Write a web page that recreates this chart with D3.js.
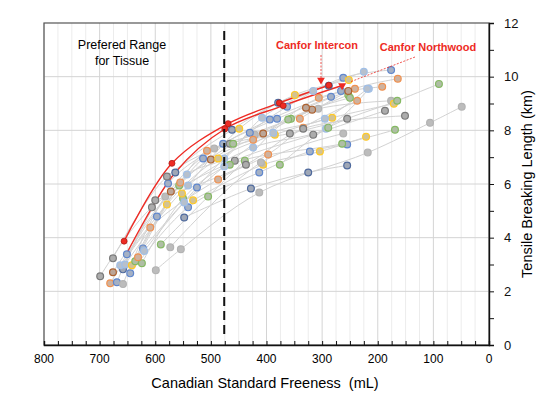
<!DOCTYPE html>
<html>
<head>
<meta charset="utf-8">
<script src="https://cdn.jsdelivr.net/npm/d3@7"></script>
<style>
  body { margin: 0; background: #fff; }
  text { font-family: "Liberation Sans", Arial, sans-serif; }
</style>
</head>
<body>
<div id="container"></div>
<script>
var w = 550;
var h = 397;

// palette codes used by the series
var palette = {
  B: "#4472c4", DB: "#2f4f8a", LB: "#8fb4e3", O: "#ed7d31", G: "#a5a5a5",
  DG: "#636363", Y: "#ffc000", GR: "#70ad47", BR: "#9e480e"
};

// pulp series: [CSF mL, breaking length km]
var seriesColors = ["DG","O","B","G","BR","DG","DB","LB","LB","G","DB","B","Y","Y","GR","GR","B","LB","GR","O","B","DG","Y","G","GR","O","BR"];
var seriesPoints = [
  [[699,2.56],[606,5.13],[457,6.87],[316,7.84],[187,8.73]],
  [[681,2.30],[609,4.38],[487,6.17],[397,7.10],[334,8.10],[237,9.10]],
  [[669,2.34],[577,6.02],[478,7.50],[381,8.43],[284,9.25]],
  [[658,2.27],[582,5.53],[494,7.32],[421,7.84],[307,8.80],[176,9.10]],
  [[676,2.71],[572,5.72],[500,6.91],[406,7.88],[318,8.77]],
  [[676,3.23],[579,6.28],[466,7.50],[358,7.88],[255,8.43]],
  [[658,2.82],[564,6.43],[462,8.02],[379,9.03],[288,9.66]],
  [[663,2.97],[543,6.35],[476,6.95],[408,8.47],[316,9.47],[225,10.18]],
  [[654,3.00],[541,5.94],[424,7.36],[293,8.06],[216,9.55]],
  [[599,2.79],[554,3.57],[413,5.68],[218,7.17],[106,8.28],[49,8.88]],
  [[548,4.75],[428,5.83],[325,6.43],[255,6.69]],
  [[645,2.67],[541,5.13],[413,6.43],[322,7.21],[255,7.47]],
  [[642,2.97],[579,5.24],[487,6.95],[385,7.84],[282,8.47],[171,8.99]],
  [[532,5.39],[406,6.72],[304,7.21],[221,7.76]],
  [[636,3.12],[557,5.94],[460,7.50],[356,8.43],[253,9.32]],
  [[624,3.05],[550,5.46],[466,6.72],[264,7.50],[169,8.02]],
  [[622,3.60],[525,5.87],[430,7.91],[363,8.88],[262,9.96],[176,10.25]],
  [[620,3.50],[548,5.31],[476,6.65],[388,7.91],[295,8.43],[219,9.55]],
  [[590,3.75],[505,5.53],[439,6.87],[361,8.40],[250,9.21]],
  [[631,3.27],[555,6.06],[507,7.24],[424,7.65],[306,9.21],[192,9.62]],
  [[651,3.38],[597,4.79],[514,6.95],[394,8.40],[266,9.47]],
  [[600,5.39],[437,6.72],[334,8.06],[151,8.54]],
  [[552,5.65],[449,8.06],[349,9.32],[252,9.88]],
  [[573,3.64],[410,6.80],[262,7.88]],
  [[376,6.72],[289,8.10],[165,9.10],[90,9.73]],
  [[340,8.43],[241,9.55],[164,9.92]],
  [[329,8.84],[253,9.47]]
];

// Canfor pulps
var intercon = [[656,3.87],[570,6.77],[469,8.25],[377,9.02],[288,9.68]];
var northwood = [[651,3.42],[564,6.43],[475,8.05],[370,8.92],[264,9.67]];

var xTicks = [800,700,600,500,400,300,200,100,0];
var yTicks = [0,2,4,6,8,10,12];
var tissueCSF = 476;

var svg = d3.select("div#container").append("svg")
  .attr("width", w).attr("height", h);

var x = d3.scaleLinear().domain([800, 0]).range([44, 489]);
var y = d3.scaleLinear().domain([0, 12]).range([345, 23]);

// grid
svg.append("g").selectAll("line")
  .data(d3.range(0, 801, 25))
  .enter().append("line")
  .attr("x1", function(d) { return x(d); }).attr("x2", function(d) { return x(d); })
  .attr("y1", y(12)).attr("y2", y(0))
  .style("stroke", function(d) { return d % 100 == 0 ? "#d4d4d4" : "#ececec"; })
  .style("stroke-width", 1);

svg.append("g").selectAll("line")
  .data(yTicks.slice(1, -1))
  .enter().append("line")
  .attr("x1", x(800)).attr("x2", x(0))
  .attr("y1", function(d) { return y(d); }).attr("y2", function(d) { return y(d); })
  .style("stroke", "#d4d4d4")
  .style("stroke-width", 1);

// frame
svg.append("rect")
  .attr("x", x(800)).attr("y", y(12))
  .attr("width", x(0) - x(800)).attr("height", y(0) - y(12))
  .style("fill", "none").style("stroke", "#555").style("stroke-width", 1.2);

var line = d3.line()
  .x(function(d) { return x(d[0]); })
  .y(function(d) { return y(d[1]); })
  .curve(d3.curveCatmullRom.alpha(0.5));

// grey curves
svg.append("g").selectAll("path")
  .data(seriesPoints)
  .enter().append("path")
  .attr("d", line)
  .style("fill", "none")
  .style("stroke", "#d2d2d2")
  .style("stroke-width", 1);

// red curves
[intercon, northwood].forEach(function(s) {
  svg.append("path")
    .attr("d", line(s))
    .style("fill", "none")
    .style("stroke", "#ee2b24")
    .style("stroke-width", 1.4);
});

// markers, muted like the original
seriesPoints.forEach(function(s, i) {
  var c = palette[seriesColors[i]];
  svg.append("g").selectAll("circle")
    .data(s)
    .enter().append("circle")
    .attr("cx", function(d) { return x(d[0]); })
    .attr("cy", function(d) { return y(d[1]); })
    .attr("r", 3.4)
    .style("fill", d3.interpolateRgb(c, "#c4c4c4")(0.75))
    .style("stroke", d3.interpolateRgb(c, "#ffffff")(0.15))
    .style("stroke-width", 1.2);
});

svg.append("g").selectAll("circle")
  .data(intercon.concat(northwood.slice(2, 4)))
  .enter().append("circle")
  .attr("cx", function(d) { return x(d[0]); })
  .attr("cy", function(d) { return y(d[1]); })
  .attr("r", 3)
  .style("fill", "#ee2b24")
  .style("stroke", "#b01a14")
  .style("stroke-width", 0.8);

var nwEnd = northwood[northwood.length - 1];
svg.append("path")
  .attr("d", d3.symbol().type(d3.symbolTriangle).size(28))
  .attr("transform", "translate(" + x(nwEnd[0]) + "," + y(nwEnd[1]) + ") rotate(60)")
  .style("fill", "#ee2b24");

// tissue range
svg.append("line")
  .attr("x1", x(tissueCSF)).attr("x2", x(tissueCSF))
  .attr("y1", 31).attr("y2", 338)
  .style("stroke", "#111").style("stroke-width", 2)
  .style("stroke-dasharray", "9,5");

svg.append("text").attr("x", 122).attr("y", 49)
  .attr("text-anchor", "middle").style("font-size", "12.5px").text("Prefered Range");
svg.append("text").attr("x", 122).attr("y", 65)
  .attr("text-anchor", "middle").style("font-size", "12.5px").text("for Tissue");

// callouts
svg.append("text").attr("x", 317).attr("y", 49)
  .attr("text-anchor", "middle").style("font-size", "11px").style("font-weight", "bold")
  .style("fill", "#ee2b24").text("Canfor Intercon");
svg.append("text").attr("x", 428).attr("y", 51)
  .attr("text-anchor", "middle").style("font-size", "11px").style("font-weight", "bold")
  .style("fill", "#ee2b24").text("Canfor Northwood");

svg.append("line")
  .attr("x1", 321).attr("y1", 55).attr("x2", 321).attr("y2", 79)
  .style("stroke", "#ee2b24").style("stroke-width", 0.8).style("stroke-dasharray", "2,1.5");
svg.append("path")
  .attr("d", d3.symbol().type(d3.symbolTriangle).size(26))
  .attr("transform", "translate(321,80) rotate(180)")
  .style("fill", "#ee2b24");

svg.append("line")
  .attr("x1", 415).attr("y1", 57).attr("x2", 350).attr("y2", 82)
  .style("stroke", "#ee2b24").style("stroke-width", 0.8).style("stroke-dasharray", "2,1.5");

// axes
var xAxis = svg.append("g")
  .attr("transform", "translate(0," + y(0) + ")")
  .call(d3.axisBottom(x).tickValues(d3.range(0, 801, 25)).tickSize(-4).tickFormat(""));
xAxis.select(".domain").style("stroke", "#111").style("stroke-width", 1.4);
xAxis.selectAll(".tick line").style("stroke", "#111");

svg.append("g").selectAll("text")
  .data(xTicks)
  .enter().append("text")
  .attr("x", function(d) { return x(d); })
  .attr("y", 363)
  .attr("text-anchor", "middle")
  .style("font-size", "12px")
  .text(function(d) { return d; });

var yAxis = svg.append("g")
  .attr("transform", "translate(" + x(0) + ",0)")
  .call(d3.axisRight(y).ticks(12).tickSize(5).tickFormat(function(d) { return d % 2 == 0 ? d : ""; }));
yAxis.select(".domain").style("stroke", "#111").style("stroke-width", 1.4);
yAxis.selectAll(".tick line").style("stroke", "#111");
yAxis.selectAll(".tick text").attr("x", 15)
  .style("font-size", "13px").style("font-family", "Liberation Sans, Arial, sans-serif").style("fill", "#111");

svg.append("text")
  .attr("x", 265).attr("y", 388)
  .attr("text-anchor", "middle")
  .style("font-size", "14.5px")
  .style("white-space", "pre")
  .text("Canadian Standard Freeness  (mL)");

svg.append("text")
  .attr("transform", "translate(532,184) rotate(-90)")
  .attr("text-anchor", "middle")
  .style("font-size", "14.5px")
  .text("Tensile Breaking Length (km)");
</script>
</body>
</html>
